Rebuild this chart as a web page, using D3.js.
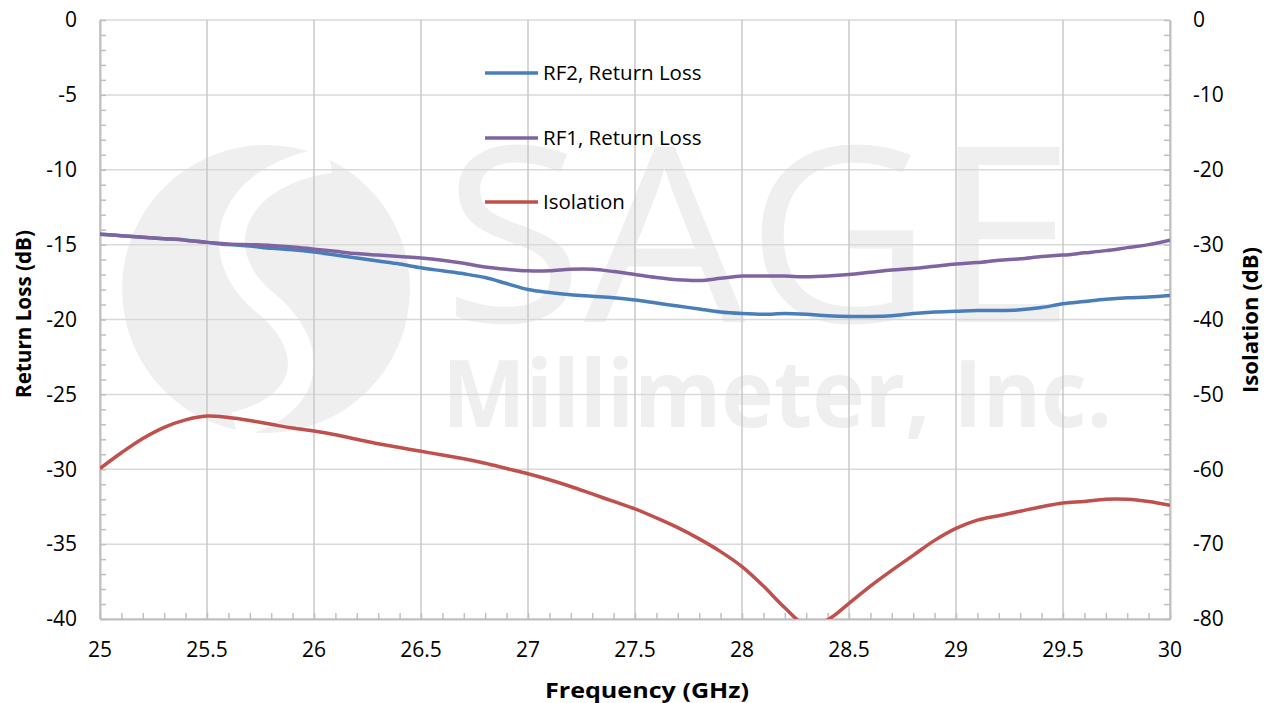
<!DOCTYPE html>
<html>
	<head>
		<meta charset="utf-8">
		<title>Return Loss and Isolation</title>
		<script src="https://d3js.org/d3.v7.min.js"></script>
		<style>
			body { margin: 0; background: #fff; }
			text { font-family: "Open Sans", sans-serif; fill: #000; }
		</style>
	</head>
	<body>
		<script>

			//Width and height
			var w = 1273;
			var h = 703;
			var plotL = 100, plotR = 1170, plotT = 20, plotB = 619;

			var freq = [25.0, 25.1, 25.2, 25.3, 25.4, 25.5, 25.6, 25.7, 25.8, 25.9,
						26.0, 26.1, 26.2, 26.3, 26.4, 26.5, 26.6, 26.7, 26.8, 26.9,
						27.0, 27.1, 27.2, 27.3, 27.4, 27.5, 27.6, 27.7, 27.8, 27.9,
						28.0, 28.1, 28.2, 28.3, 28.4, 28.5, 28.6, 28.7, 28.8, 28.9,
						29.0, 29.1, 29.2, 29.3, 29.4, 29.5, 29.6, 29.7, 29.8, 29.9, 30.0];

			var rf2 = [-14.3, -14.4, -14.5, -14.6, -14.7, -14.85, -15.0, -15.1, -15.25, -15.35,
						-15.5, -15.7, -15.9, -16.1, -16.3, -16.55, -16.75, -16.95, -17.2, -17.6,
						-18.0, -18.2, -18.35, -18.45, -18.55, -18.7, -18.9, -19.1, -19.3, -19.5,
						-19.6, -19.65, -19.6, -19.65, -19.75, -19.8, -19.8, -19.75, -19.6, -19.5,
						-19.45, -19.4, -19.4, -19.35, -19.2, -18.95, -18.8, -18.65, -18.55, -18.5, -18.4];

			var rf1 = [-14.3, -14.4, -14.5, -14.6, -14.7, -14.85, -14.95, -15.0, -15.05, -15.15,
						-15.3, -15.45, -15.6, -15.7, -15.8, -15.9, -16.05, -16.25, -16.5, -16.65,
						-16.75, -16.75, -16.65, -16.65, -16.8, -17.0, -17.2, -17.35, -17.4, -17.25,
						-17.1, -17.1, -17.1, -17.15, -17.1, -17.0, -16.85, -16.7, -16.6, -16.45,
						-16.3, -16.2, -16.05, -15.95, -15.8, -15.7, -15.55, -15.4, -15.2, -15.0, -14.7];

			var isolation = [-59.9, -57.8, -55.9, -54.4, -53.4, -52.9, -53.1, -53.5, -54.0, -54.5,
						-54.9, -55.4, -56.0, -56.6, -57.1, -57.6, -58.1, -58.6, -59.2, -59.9,
						-60.6, -61.4, -62.3, -63.3, -64.3, -65.3, -66.5, -67.8, -69.3, -71.0,
						-73.0, -75.6, -78.5, -80.8, -80.1, -77.9, -75.6, -73.5, -71.5, -69.5,
						-67.9, -66.8, -66.2, -65.6, -65.0, -64.5, -64.3, -64.0, -64.0, -64.3, -64.8];

			var xTicks = [25, 25.5, 26, 26.5, 27, 27.5, 28, 28.5, 29, 29.5, 30];
			var leftTicks = [0, -5, -10, -15, -20, -25, -30, -35, -40];
			var rightTicks = [0, -10, -20, -30, -40, -50, -60, -70, -80];

			var seriesNames = ["RF2, Return Loss", "RF1, Return Loss", "Isolation"];
			var seriesColors = ["#4a7ebb", "#8064a2", "#c0504d"];

			var xScale = d3.scaleLinear().domain([25, 30]).range([plotL, plotR]);
			var yScale = d3.scaleLinear().domain([0, -40]).range([plotT, plotB]);
			var y2Scale = d3.scaleLinear().domain([0, -80]).range([plotT, plotB]);

			//Create SVG element
			var svg = d3.select("body")
						.append("svg")
						.attr("width", w)
						.attr("height", h);

			svg.append("clipPath").attr("id", "plot")
				.append("rect")
				.attr("x", plotL).attr("y", plotT)
				.attr("width", plotR - plotL).attr("height", plotB - plotT);

			// watermark
			var wm = svg.append("g").attr("clip-path", "url(#plot)");
			wm.append("circle").attr("cx", 266).attr("cy", 289).attr("r", 144).attr("fill", "#efefef");
			wm.append("path")
				.attr("d", "M330,160 C230,175 205,250 262,300 C320,345 315,405 235,425")
				.attr("fill", "none").attr("stroke", "#fff").attr("stroke-width", 26);
			wm.append("text").text("SAGE")
				.attr("x", 443).attr("y", 322)
				.attr("font-size", 245).attr("font-weight", 400)
				.attr("textLength", 632).attr("lengthAdjust", "spacingAndGlyphs")
				.style("fill", "#efefef");
			wm.append("text").text("Millimeter, Inc.")
				.attr("x", 442).attr("y", 427)
				.attr("font-size", 94).attr("font-weight", 700)
				.attr("textLength", 670).attr("lengthAdjust", "spacingAndGlyphs")
				.style("fill", "#efefef");

			// gridlines
			svg.append("g")
				.selectAll("line")
				.data(leftTicks)
				.enter()
				.append("line")
				.attr("x1", plotL).attr("x2", plotR)
				.attr("y1", function(d) { return yScale(d); })
				.attr("y2", function(d) { return yScale(d); })
				.attr("stroke", "#d9d9d9").attr("stroke-width", 1.5);

			svg.append("g")
				.selectAll("line")
				.data(xTicks)
				.enter()
				.append("line")
				.attr("x1", function(d) { return xScale(d); })
				.attr("x2", function(d) { return xScale(d); })
				.attr("y1", plotT).attr("y2", plotB)
				.attr("stroke", "#c8c8c8").attr("stroke-width", 1.5);

			// axes with minor ticks pointing inward
			var xMinor = d3.range(0, 51).map(function(i) { return 25 + i / 10; });
			var lMinor = d3.range(0, 41).map(function(i) { return -i; });
			var rMinor = d3.range(0, 41).map(function(i) { return -2 * i; });

			function styleAxis(g) {
				g.select(".domain").attr("stroke", "#bfbfbf").attr("stroke-width", 2);
				g.selectAll(".tick line").attr("stroke", "#bfbfbf").attr("stroke-width", 1.5);
				g.selectAll(".tick text").remove();
			}

			svg.append("g")
				.attr("transform", "translate(0," + plotB + ")")
				.call(d3.axisBottom(xScale).tickValues(xMinor).tickSize(-6).tickSizeOuter(0))
				.call(styleAxis);

			svg.append("g")
				.attr("transform", "translate(" + plotL + ",0)")
				.call(d3.axisLeft(yScale).tickValues(lMinor).tickSize(-6).tickSizeOuter(0))
				.call(styleAxis);

			svg.append("g")
				.attr("transform", "translate(" + plotR + ",0)")
				.call(d3.axisRight(y2Scale).tickValues(rMinor).tickSize(-6).tickSizeOuter(0))
				.call(styleAxis);

			// tick labels
			svg.selectAll("text.xlab")
				.data(xTicks)
				.enter()
				.append("text")
				.attr("class", "xlab")
				.text(function(d) { return d; })
				.attr("x", function(d) { return xScale(d); })
				.attr("y", 657)
				.attr("text-anchor", "middle")
				.attr("font-size", 21);

			svg.selectAll("text.llab")
				.data(leftTicks)
				.enter()
				.append("text")
				.attr("class", "llab")
				.text(function(d) { return d; })
				.attr("x", 77)
				.attr("y", function(d) { return yScale(d); })
				.attr("dy", "0.35em")
				.attr("text-anchor", "end")
				.attr("font-size", 21);

			svg.selectAll("text.rlab")
				.data(rightTicks)
				.enter()
				.append("text")
				.attr("class", "rlab")
				.text(function(d) { return d; })
				.attr("x", 1193)
				.attr("y", function(d) { return y2Scale(d); })
				.attr("dy", "0.35em")
				.attr("font-size", 21);

			// axis titles
			svg.append("text").text("Frequency (GHz)")
				.attr("x", 545).attr("y", 698)
				.attr("font-size", 21).attr("font-weight", 700)
				.attr("textLength", 204).attr("lengthAdjust", "spacingAndGlyphs");

			svg.append("text").text("Return Loss (dB)")
				.attr("transform", "translate(31,398) rotate(-90)")
				.attr("font-size", 21).attr("font-weight", 700)
				.attr("textLength", 168).attr("lengthAdjust", "spacingAndGlyphs");

			svg.append("text").text("Isolation (dB)")
				.attr("transform", "translate(1258,393) rotate(-90)")
				.attr("font-size", 21).attr("font-weight", 700)
				.attr("textLength", 146).attr("lengthAdjust", "spacingAndGlyphs");

			// series
			var lineL = d3.line()
				.x(function(d, i) { return xScale(freq[i]); })
				.y(function(d) { return yScale(d); })
				.curve(d3.curveCatmullRom.alpha(0.5));

			var lineR = d3.line()
				.x(function(d, i) { return xScale(freq[i]); })
				.y(function(d) { return y2Scale(d); })
				.curve(d3.curveCatmullRom.alpha(0.5));

			var plot = svg.append("g").attr("clip-path", "url(#plot)");

			plot.append("path").datum(rf2)
				.attr("d", lineL)
				.attr("fill", "none").attr("stroke", seriesColors[0]).attr("stroke-width", 3.5);

			plot.append("path").datum(rf1)
				.attr("d", lineL)
				.attr("fill", "none").attr("stroke", seriesColors[1]).attr("stroke-width", 3.5);

			plot.append("path").datum(isolation)
				.attr("d", lineR)
				.attr("fill", "none").attr("stroke", seriesColors[2]).attr("stroke-width", 3.5);

			// legend
			var legendY = [73, 138, 202];
			var legend = svg.selectAll("g.legend")
				.data(seriesNames)
				.enter()
				.append("g")
				.attr("class", "legend")
				.attr("transform", function(d, i) { return "translate(485," + legendY[i] + ")"; });

			legend.append("line")
				.attr("x1", 0).attr("x2", 53)
				.attr("stroke", function(d, i) { return seriesColors[i]; })
				.attr("stroke-width", 3.5);

			legend.append("text")
				.text(function(d) { return d; })
				.attr("x", 58)
				.attr("dy", "0.35em")
				.attr("font-size", 20.5);

		</script>
	</body>
</html>
